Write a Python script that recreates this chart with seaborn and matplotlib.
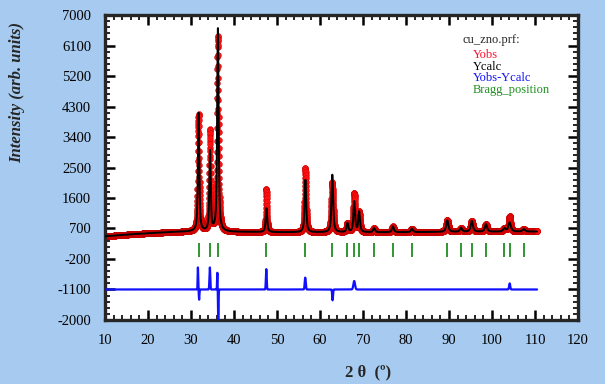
import numpy as np
import pandas as pd
import matplotlib
matplotlib.use("Agg")
import matplotlib.pyplot as plt
import seaborn as sns

# background (2theta, counts)
bg_pos = [10, 15, 20, 25, 30, 40, 50, 60, 70, 80, 90, 100, 110.5]
bg_val = [470, 520, 560, 590, 610, 600, 590, 585, 585, 590, 600, 605, 610]

# calculated peaks: position, height above background, fwhm
pk_pos = [31.77, 34.42, 36.25, 47.54, 56.60, 62.86, 66.38, 67.96, 69.10, 72.56,
          76.95, 81.37, 89.60, 92.80, 95.30, 98.60, 102.90, 104.10, 107.40]
pk_height = [3500, 2350, 6000, 700, 1550, 1700, 260, 900, 600, 120,
             170, 100, 340, 110, 320, 220, 90, 270, 70]
pk_fwhm = [0.38, 0.38, 0.40, 0.42, 0.44, 0.46, 0.46, 0.46, 0.46, 0.50,
           0.52, 0.55, 0.60, 0.60, 0.60, 0.60, 0.70, 0.70, 0.70]

# misfit (Yobs - Ycalc) features: position, amplitude, width
res_pos = [31.60, 31.88, 34.38, 36.12, 36.33, 47.50, 56.56, 62.92, 67.95, 104.10]
res_amp = [650, -300, 650, 500, -900, 600, 350, -320, 250, 180]
res_w = [0.14, 0.16, 0.22, 0.14, 0.16, 0.22, 0.28, 0.22, 0.45, 0.30]

# Bragg reflections of ZnO
bragg = [31.77, 34.42, 36.25, 47.54, 56.60, 62.86, 66.38, 67.96, 69.10, 72.56,
         76.95, 81.37, 89.60, 92.80, 95.30, 98.60, 102.90, 104.10, 107.40]

diff_offset = -1100
tth = np.arange(10, 110.5, 0.02)


def pvoigt(x, x0, h, w, eta=0.7):
    u = (x - x0) / (w / 2)
    return h * (eta / (1 + u ** 2) + (1 - eta) * np.exp(-np.log(2) * u ** 2))


ycalc = np.interp(tth, bg_pos, bg_val).astype(float)
for p, h, w in zip(pk_pos, pk_height, pk_fwhm):
    ycalc += pvoigt(tth, p, h, w)

resid = np.zeros_like(tth)
for p, a, w in zip(res_pos, res_amp, res_w):
    resid += a * np.exp(-0.5 * ((tth - p) / (w / 2.355)) ** 2)

yobs = ycalc + resid
df = pd.DataFrame({"tth": tth, "yobs": yobs, "ycalc": ycalc, "diff": resid + diff_offset})

sns.set_style("ticks")
plt.rcParams["font.family"] = ["Liberation Serif", "DejaVu Serif"]
plt.rcParams["axes.unicode_minus"] = False

bgcol = "#A6CAF0"
fig = plt.figure(figsize=(6.05, 3.84), dpi=100, facecolor=bgcol)
ax = fig.add_axes([0.1736, 0.1667, 0.9554 - 0.1736, 0.9609 - 0.1667])
ax.set_facecolor("white")

sns.scatterplot(data=df, x="tth", y="yobs", ax=ax, s=18, color="#ff1010",
                edgecolor="#c00000", linewidth=0.3, zorder=2, legend=False)
sns.lineplot(data=df, x="tth", y="ycalc", ax=ax, color="black", lw=1.4, zorder=3)
sns.lineplot(data=df, x="tth", y="diff", ax=ax, color="#1010ff", lw=1.6, zorder=3)
ax.vlines(bragg, -140, 270, color="#1f8f1f", lw=1.3, zorder=3)

ax.set_xlim(10, 120)
ax.set_ylim(-2000, 7000)
ax.set_xticks(np.arange(10, 121, 10))
ax.set_xticks(np.arange(10, 121, 2), minor=True)
ax.set_yticks(np.arange(-2000, 7001, 900))
ax.set_yticks(np.arange(-2000, 7001, 180), minor=True)
ax.tick_params(which="both", direction="in", top=True, right=True, labelsize=10.5,
               colors="black")
ax.tick_params(which="major", length=7, width=1.8, pad=10)
ax.tick_params(which="minor", length=3.5, width=1.2)
for s in ax.spines.values():
    s.set_linewidth(2.4)
ax.set_xlabel("")
ax.set_ylabel("")

fig.text(0.028, 0.758, "Intensity (arb. units)", rotation=90, ha="center", va="center",
         fontsize=12, fontweight="bold", fontstyle="italic")
fig.text(0.608, 0.031, "2 θ  (º)", ha="center", va="center", fontsize=12, fontweight="bold")

ax.text(0.755, 0.918, "cu_zno.prf:", transform=ax.transAxes, fontsize=9, va="center")
leg = [("Yobs", "#ff1030"), ("Ycalc", "black"), ("Yobs-Ycalc", "#1010ff"),
       ("Bragg_position", "#1f8f1f")]
for i, (t, c) in enumerate(leg):
    ax.text(0.778, 0.869 - i * 0.038, t, transform=ax.transAxes, fontsize=9,
            color=c, va="center")

fig.savefig("out.png", dpi=100, facecolor=bgcol)
